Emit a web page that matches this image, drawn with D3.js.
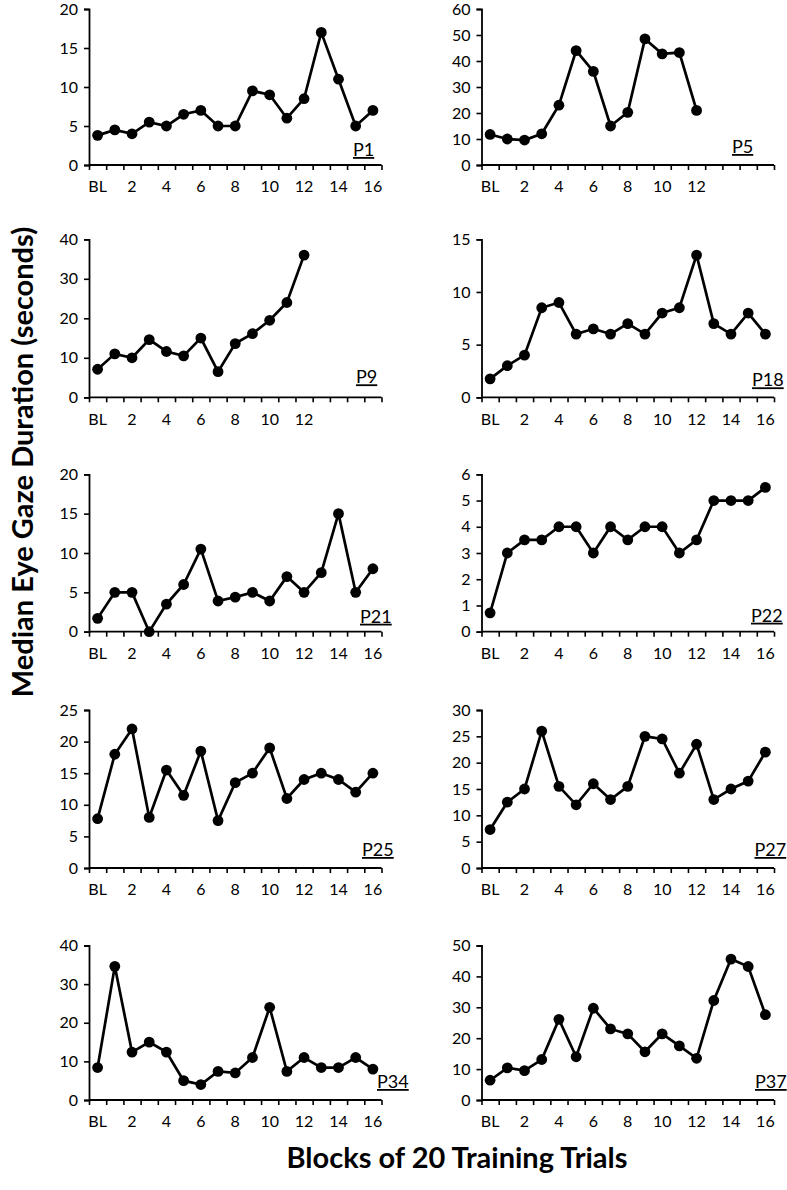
<!DOCTYPE html>
<html>
<head>
<meta charset="utf-8">
<script src="https://cdn.jsdelivr.net/npm/d3@7"></script>
<style>
  html, body { margin: 0; padding: 0; background: #fff; }
  svg { display: block; }
  text { font-family: Lato, "Open Sans", sans-serif; fill: #000; }
</style>
</head>
<body>
<svg id="chart" width="787" height="1190"></svg>
<script>
// ---------- DATA ----------
const categories = ["BL","1","2","3","4","5","6","7","8","9","10","11","12","13","14","15","16"];
const tickLabelsFull = ["BL","2","4","6","8","10","12","14","16"];
const tickLabelsShort = ["BL","2","4","6","8","10","12"];

const participants = ["P1","P5","P9","P18","P21","P22","P25","P27","P34","P37"];

const p1  = [3.8, 4.5, 4.0, 5.5, 5.0, 6.5, 7.0, 5.0, 5.0, 9.5, 9.0, 6.0, 8.5, 17.0, 11.0, 5.0, 7.0];
const p5  = [11.75, 10, 9.6, 12, 23, 44, 36, 15, 20.25, 48.5, 42.75, 43.25, 21, null, null, null, null];
const p9  = [7.1, 11.0, 10.0, 14.6, 11.6, 10.5, 15.0, 6.5, 13.6, 16.1, 19.5, 24.0, 36.0, null, null, null, null];
const p18 = [1.75, 3.0, 4.0, 8.5, 9.0, 6.0, 6.5, 6.0, 7.0, 6.0, 8.0, 8.5, 13.5, 7.0, 6.0, 8.0, 6.0];
const p21 = [1.7, 5.0, 5.0, 0.0, 3.5, 6.0, 10.5, 3.9, 4.4, 5.0, 3.9, 7.0, 5.0, 7.5, 15.0, 5.0, 8.0];
const p22 = [0.72, 3.0, 3.5, 3.5, 4.0, 4.0, 3.0, 4.0, 3.5, 4.0, 4.0, 3.0, 3.5, 5.0, 5.0, 5.0, 5.5];
const p25 = [7.8, 18.0, 22.0, 8.0, 15.5, 11.5, 18.5, 7.5, 13.5, 15.0, 19.0, 11.0, 14.0, 15.0, 14.0, 12.0, 15.0];
const p27 = [7.3, 12.5, 15.0, 26.0, 15.5, 12.0, 16.0, 13.0, 15.5, 25.0, 24.5, 18.0, 23.5, 13.0, 15.0, 16.5, 22.0];
const p34 = [8.4, 34.6, 12.4, 15.0, 12.4, 5.0, 4.0, 7.4, 7.0, 11.0, 24.0, 7.4, 11.0, 8.4, 8.4, 11.0, 8.0];
const p37 = [6.4, 10.4, 9.5, 13.1, 26.1, 14.0, 29.7, 23.0, 21.4, 15.6, 21.4, 17.5, 13.5, 32.2, 45.6, 43.2, 27.6];

const seriesValues = [p1, p5, p9, p18, p21, p22, p25, p27, p34, p37];
const yMaxes = [20, 60, 40, 15, 20, 6, 25, 30, 40, 50];
const ySteps = [5, 10, 10, 5, 5, 1, 5, 5, 10, 10];
const xLabelSets = [tickLabelsFull, tickLabelsShort, tickLabelsShort, tickLabelsFull, tickLabelsFull,
                    tickLabelsFull, tickLabelsFull, tickLabelsFull, tickLabelsFull, tickLabelsFull];

// ---------- LAYOUT (positions / styles) ----------
const colX = [89, 481.5];
const plotW = 292.5;
const rows = [[9, 165], [239.3, 397.3], [474.3, 631.7], [710, 868], [945.5, 1100]];
const labelDx = [264, 250.5, 267, 270.5, 271, 269.5, 273, 273, 288, 273.5];
const labelDy = [-9, -12, -14, -11, -9, -10, -12, -12, -12, -12];

const svg = d3.select("#chart");

seriesValues.forEach((vals, i) => {
  const col = i % 2, row = Math.floor(i / 2);
  const x0 = colX[col], x1 = x0 + plotW;
  const [top, bottom] = rows[row];

  const xb = d3.scaleBand().domain(categories).range([x0, x1]).paddingInner(0).paddingOuter(0);
  const xl = d3.scaleLinear().domain([0, categories.length]).range([x0, x1]);
  const y = d3.scaleLinear().domain([0, yMaxes[i]]).range([bottom, top]);

  const g = svg.append("g");

  // y axis
  const yAxis = g.append("g").attr("transform", `translate(${x0},0)`)
    .call(d3.axisLeft(y).tickValues(d3.range(0, yMaxes[i] + ySteps[i] / 2, ySteps[i]))
      .tickSize(5).tickPadding(6).tickFormat(d3.format("d")));
  yAxis.select(".domain").attr("stroke", "#000").attr("stroke-width", 1.8);
  yAxis.selectAll(".tick line").attr("stroke", "#000").attr("stroke-width", 1.6);
  yAxis.selectAll("text").style("font-size", "16px").attr("fill", "#000");

  // x axis ticks at band boundaries
  const xAxis = g.append("g").attr("transform", `translate(0,${bottom})`)
    .call(d3.axisBottom(xl).tickValues(d3.range(0, categories.length + 1)).tickSize(5).tickFormat(""));
  xAxis.select(".domain").attr("stroke", "#000").attr("stroke-width", 1.8).attr("d", `M${x0},0H${x1}`);
  xAxis.selectAll(".tick line").attr("stroke", "#000").attr("stroke-width", 1.6);

  // x labels at band centres
  const labelSet = new Set(xLabelSets[i]);
  const xLab = g.append("g").attr("transform", `translate(0,${bottom})`)
    .call(d3.axisBottom(xb).tickSize(0).tickPadding(16)
      .tickFormat(d => labelSet.has(d) ? d : ""));
  xLab.select(".domain").remove();
  xLab.selectAll("text").style("font-size", "16px").attr("fill", "#000");

  // line + points
  const pts = vals.map((v, k) => ({ c: categories[k], v })).filter(d => d.v !== null);
  const line = d3.line().x(d => xb(d.c) + xb.bandwidth() / 2).y(d => y(d.v));
  g.append("path").datum(pts).attr("d", line)
    .attr("fill", "none").attr("stroke", "#000").attr("stroke-width", 2.7).attr("stroke-linejoin", "miter");
  g.selectAll("circle").data(pts).enter().append("circle")
    .attr("cx", d => xb(d.c) + xb.bandwidth() / 2)
    .attr("cy", d => y(d.v))
    .attr("r", 5.4).attr("fill", "#000");

  // participant label
  g.append("text")
    .attr("x", x0 + labelDx[i]).attr("y", bottom + labelDy[i])
    .style("font-size", "18px").style("text-decoration", "underline")
    .text(participants[i]);
});

// axis titles
svg.append("text")
  .attr("transform", "translate(33,462) rotate(-90)")
  .attr("text-anchor", "middle")
  .style("font-size", "29px").style("font-weight", "bold")
  .text("Median Eye Gaze Duration (seconds)");

svg.append("text")
  .attr("x", 457).attr("y", 1168)
  .attr("text-anchor", "middle")
  .style("font-size", "29px").style("font-weight", "bold")
  .text("Blocks of 20 Training Trials");
</script>
</body>
</html>
